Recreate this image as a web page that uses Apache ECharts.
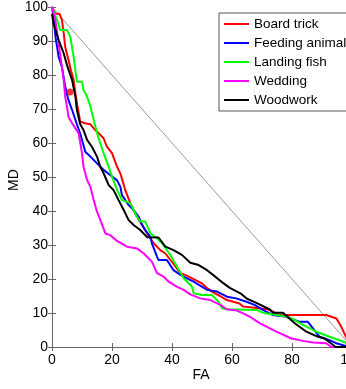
<!DOCTYPE html>
<html>
<head>
<meta charset="utf-8">
<script src="https://cdn.jsdelivr.net/npm/echarts@6/dist/echarts.min.js"></script>
<style>
  html, body { margin: 0; padding: 0; background: #fff; }
  #chart { width: 346px; height: 389px; }
</style>
</head>
<body>
<div id="chart"></div>
<script>
// FA / MD pairs
const boardTrick = [[0,100],[1.1,98],[2.5,98],[3.3,96.2],[3.9,92.3],[4.4,88.3],[5.5,84.4],[6.3,81.5],[7.2,78.5],[7.8,74.6],[8.5,70.7],[9.4,66.3],[11,65.8],[12.8,65.5],[14.4,63.8],[16.1,62.4],[17.2,61.4],[18.3,58.9],[20,57],[21.7,53],[22.8,51],[23.5,49],[24.4,46.2],[26.1,42.3],[28.3,38.3],[30,35.9],[31.7,33.4],[33.9,30.5],[36.1,28.5],[37.8,27.5],[40,25],[42.8,21.7],[44.4,21.2],[46.7,20.2],[50,18.7],[51.7,17.3],[53.3,16.3],[56,15],[58.3,13.8],[62.5,12.8],[63.7,11.9],[66,11.7],[72,11.1],[75.9,9.4],[91.4,9.4],[94.8,8.4],[96.4,6],[98,3],[100,0]];
const feedingAnimal = [[0,100],[0.5,97],[1.2,91],[2.2,85.4],[3.3,82.4],[4.4,76.6],[5.5,72.6],[6.7,69.7],[8.3,65.5],[9.4,62.8],[10,60.9],[11.1,57.4],[12.8,56],[15,54],[17.2,52.1],[19.4,50.6],[21.7,49],[22.8,47.1],[23.3,44.7],[25.5,41.8],[27.2,40.3],[28.9,38.3],[30,36],[31.1,34.4],[32.8,32.4],[33.3,30.5],[35,26.6],[35.5,25.6],[38.3,25.6],[40.5,22.6],[42.8,21.2],[45,20.2],[47.2,19.2],[51.7,16.8],[55,16.3],[58.3,14.8],[61.4,14.3],[64.8,13.3],[67.5,12.4],[70.3,10.9],[73.7,9.4],[78.1,8.9],[82.5,7.4],[85.3,7.4],[87,5.5],[89.2,3],[92.5,2],[94.8,1.1],[98,0.3],[100,0]];
const landingFish = [[0,100],[1.7,96.2],[2.8,93.2],[5,93.2],[6.1,91.3],[7.2,85.4],[8.3,78],[10,78],[10.5,75.6],[11.7,73.6],[12.8,70.7],[13.9,66.8],[15,63],[16.1,59.9],[17.2,57],[18.9,53],[20,50.1],[21.7,46.2],[23.3,43.2],[26.1,42.3],[27.2,40.3],[28.3,38.3],[29.4,36.9],[31.1,36.9],[32.8,33.4],[35,32],[36.7,30.5],[39.4,27.1],[41.7,23.6],[43.9,20.2],[46.7,17.7],[47.2,15.8],[50,15.3],[53.3,15.3],[55.5,13.3],[56.7,11.4],[58.3,11.1],[68.1,10.9],[70.9,9.9],[75.3,9.4],[79.2,8.7],[83.7,6.5],[88.1,4.5],[92.5,3],[97,1.6],[100,0.5]];
const wedding = [[0,100],[1.1,96.2],[2.2,89.3],[3.3,82.4],[3.9,78.5],[4.4,73.6],[5,70.7],[5.5,67.7],[6.7,65.8],[7.8,64.3],[8.9,62.8],[10,57],[10.5,53],[11.7,49.1],[12.8,47.1],[13.9,43.2],[15,39.8],[16.1,37.4],[17.8,33.4],[19.4,32.9],[21.7,31.2],[25,29.5],[28.3,29],[30.6,27.5],[33.3,25.1],[35,21.7],[37.2,20.7],[38.9,19.2],[41.7,17.7],[43.9,16.8],[46.1,15.5],[49.4,14.3],[52.8,13.8],[56.1,12.4],[58.3,11.1],[61.7,10.7],[63.7,9.9],[66,8.9],[69.2,7],[74.8,4.5],[79.8,2.5],[83.7,1.8],[87,1.3],[91.4,1.1],[93.1,0],[100,0]];
const woodwork = [[0,98],[0.5,95.2],[2.2,90.3],[3.9,86.4],[5,82.9],[6.7,78.5],[7.8,73.6],[8.3,69.7],[9.4,65.5],[10.5,63.8],[11.7,60.9],[13.3,58.9],[15,56],[16.1,53],[17.2,51.1],[18.9,47.6],[20.5,46.2],[22.2,43.2],[23.9,40.3],[25.5,37.4],[27.2,35.9],[29.4,34.4],[31.7,32.3],[35.5,32.2],[37.8,29.5],[40.5,28.5],[43.3,27.1],[46.1,24.8],[48.9,24.1],[51.7,22.6],[54.4,20.7],[57.2,18.7],[59.4,17.3],[62.8,15.8],[65,14.2],[68.1,13],[72.5,11.1],[73.7,10.1],[77,10.1],[80.9,7],[84.8,4.5],[88.7,3],[90.9,2.5],[93.7,0.6],[94.5,0],[100,0]];
const chanceLine = [[0,100],[100,0]];
const operatingPoint = [[6,75]];

const seriesNames = ['Board trick', 'Feeding animal', 'Landing fish', 'Wedding', 'Woodwork'];
const seriesData = [boardTrick, feedingAnimal, landingFish, wedding, woodwork];
const seriesColors = ['#ff0000', '#0000ff', '#00ff00', '#ff00ff', '#000000'];

const font = 'Liberation Sans, Arial, sans-serif';
const axisCol = '#666';

const myChart = echarts.init(document.getElementById('chart'));

const curves = seriesNames.map((name, i) => ({
  name: name,
  type: 'line',
  data: seriesData[i],
  showSymbol: false,
  symbol: 'none',
  z: 3,
  lineStyle: { width: 2, color: seriesColors[i] },
  itemStyle: { color: seriesColors[i] },
}));

myChart.setOption({
  animation: false,
  grid: {
    left: 52,
    top: 7,
    width: 300,
    height: 340,
    outerBoundsMode: 'none',
  },
  // axis titles
  graphic: [
    {
      type: 'text',
      x: 14,
      y: 180,
      rotation: Math.PI / 2,
      style: { text: 'MD', fontSize: 14, fill: '#000', fontFamily: font, align: 'center', verticalAlign: 'middle' },
    },
    {
      type: 'text',
      x: 201,
      y: 375,
      style: { text: 'FA', fontSize: 14, fill: '#000', fontFamily: font, align: 'center', verticalAlign: 'middle' },
    },
  ],
  legend: {
    data: seriesNames,
    orient: 'vertical',
    left: 219,
    top: 13,
    padding: [4, 10, 4, 5],
    itemGap: 5,
    itemWidth: 25,
    itemHeight: 2,
    icon: 'rect',
    backgroundColor: '#fff',
    borderColor: '#555',
    borderWidth: 1,
    textStyle: { fontSize: 13.5, lineHeight: 14, color: '#000', fontFamily: font },
  },
  xAxis: [
    {
      type: 'value',
      min: 0,
      max: 100,
      interval: 20,
      position: 'bottom',
      axisLine: { lineStyle: { color: axisCol, width: 1 } },
      axisTick: { inside: true, length: 4, lineStyle: { color: axisCol } },
      axisLabel: { fontSize: 14, color: '#000', margin: 6, fontFamily: font },
      splitLine: { show: false },
    },
    {
      type: 'value',
      min: 0,
      max: 100,
      interval: 20,
      position: 'top',
      axisLine: { lineStyle: { color: axisCol, width: 1 } },
      axisTick: { inside: true, length: 4, lineStyle: { color: axisCol } },
      axisLabel: { show: false },
      splitLine: { show: false },
    },
  ],
  yAxis: [
    {
      type: 'value',
      min: 0,
      max: 100,
      interval: 10,
      position: 'left',
      axisLine: { show: true, lineStyle: { color: axisCol, width: 1 } },
      axisTick: { show: true, inside: true, length: 4, lineStyle: { color: axisCol } },
      axisLabel: { fontSize: 14, color: '#000', margin: 4, fontFamily: font },
      splitLine: { show: false },
    },
    {
      type: 'value',
      min: 0,
      max: 100,
      interval: 10,
      position: 'right',
      axisLine: { show: true, lineStyle: { color: axisCol, width: 1 } },
      axisTick: { show: true, inside: true, length: 4, lineStyle: { color: axisCol } },
      axisLabel: { show: false },
      splitLine: { show: false },
    },
  ],
  series: [
    {
      name: 'chance',
      type: 'line',
      data: chanceLine,
      symbol: 'none',
      silent: true,
      z: 1,
      lineStyle: { width: 1, color: '#9a9a9a' },
    },
    ...curves,
    {
      name: 'point',
      type: 'scatter',
      data: operatingPoint,
      symbolSize: 7,
      z: 5,
      itemStyle: { color: '#ff0000' },
    },
  ],
});
</script>
</body>
</html>
